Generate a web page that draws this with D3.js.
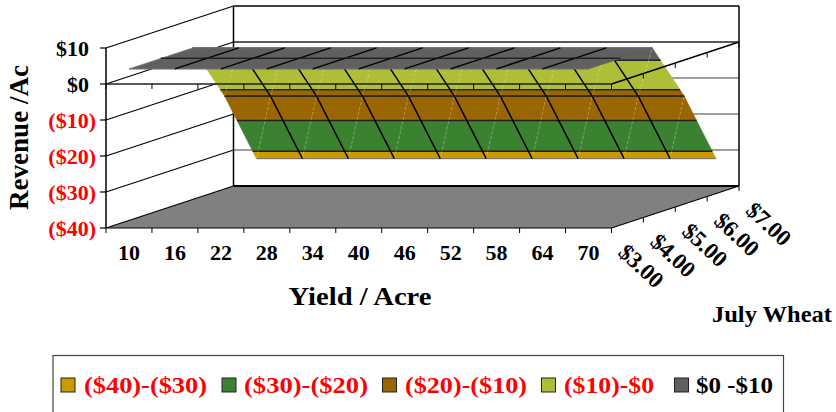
<!DOCTYPE html>
<html>
<head>
<meta charset="utf-8">
<script src="https://cdn.jsdelivr.net/npm/d3@7/dist/d3.min.js"></script>
<style>
html,body{margin:0;padding:0;background:#fff;overflow:hidden}
text{font-family:"Liberation Serif",serif;font-weight:bold}
</style>
</head>
<body>
<svg id="chart" width="836" height="412"></svg>
<script>
const yields = ["10","16","22","28","34","40","46","52","58","64","70"];
const prices = ["$3.00","$4.00","$5.00","$6.00","$7.00"];
const valueTicks = [10,0,-10,-20,-30,-40];
const tickLabels = ["$10","$0","($10)","($20)","($30)","($40)"];
const bandLevels = [-40,-30,-20,-10,0,10];
const bandNames = ["($40)-($30)","($30)-($20)","($20)-($10)","($10)-$0","$0 -$10"];
const bandColors = ["#cc9900","#3b8230","#996600","#aebe38","#606060"];
const bandTextColors = ["#ff0000","#ff0000","#ff0000","#ff0000","#000000"];

// Revenue per acre, one list per wheat price, one value per yield
const revenueAt3 = [4.2,4.2,4.2,4.2,4.2,4.2,4.2,4.2,4.2,4.2,4.2];
const revenueAt4 = [4.2,4.2,4.2,4.2,4.2,4.2,4.2,4.2,4.2,4.2,4.2];
const revenueAt5 = [4.2,4.2,4.2,4.2,4.2,4.2,4.2,4.2,4.2,4.2,4.2];
const revenueAt6 = [-12.1,-12.1,-12.1,-12.1,-12.1,-12.1,-12.1,-12.1,-12.1,-12.1,-12.1];
const revenueAt7 = [-32.4,-32.4,-32.4,-32.4,-32.4,-32.4,-32.4,-32.4,-32.4,-32.4,-32.4];
const surface = [revenueAt3,revenueAt4,revenueAt5,revenueAt6,revenueAt7];

const svg = d3.select("#chart");

// Oblique projection: yield runs across, price recedes up and to the right
const xBand = d3.scaleBand().domain(yields).range([106,611.5]);
const yVal = d3.scaleLinear().domain([-40,10]).range([228,48]);
const depthX = d3.scalePoint().domain(prices).range([0,127.5]);
const depthY = d3.scalePoint().domain(prices).range([0,42]);
const edgeX = (i) => 106 + i * xBand.bandwidth();
const project = (fi,fd,v) => [
  xBand(yields[0]) + xBand.bandwidth()/2 + fi*xBand.step() + fd*depthX.step(),
  yVal(v) - fd*depthY.step()
];
const wallPoint = (ex,d,v) => [ex + d*depthX.step(), yVal(v) - d*depthY.step()];
const lastD = prices.length-1;
const pathOf = (pts,close) => "M"+pts.map(p=>p[0]+","+p[1]).join("L")+(close?"Z":"");

const line = (g,a,b,w,c) => g.append("path").attr("d",pathOf([a,b])).attr("fill","none")
  .attr("stroke",c||"#000").attr("stroke-width",w);

// Floor
const walls = svg.append("g");
walls.append("path")
  .attr("d",pathOf([wallPoint(106,0,-40),wallPoint(611.5,0,-40),wallPoint(611.5,lastD,-40),wallPoint(106,lastD,-40)],true))
  .attr("fill","#808080");

// Back-wall gridlines
[-10,-20,-30].forEach(v=>line(walls,wallPoint(106,lastD,v),wallPoint(611.5,lastD,v),1.6,"#808080"));
line(walls,wallPoint(106,lastD,0),wallPoint(611.5,lastD,0),1.6,"#222");
line(walls,wallPoint(106,lastD,10),wallPoint(611.5,lastD,10),1.6);
line(walls,wallPoint(106,lastD,-40),wallPoint(611.5,lastD,-40),2);
line(walls,wallPoint(106,lastD,10),wallPoint(106,lastD,-40),1.5);
line(walls,wallPoint(611.5,lastD,10),wallPoint(611.5,lastD,-40),1.5);

// Side-wall gridlines and the outer frame
valueTicks.forEach(v=>line(walls,wallPoint(106,0,v),wallPoint(106,lastD,v),1.2));
line(walls,wallPoint(106,0,10),wallPoint(106,0,-40),1.5);
line(walls,wallPoint(106,0,-40),wallPoint(611.5,0,-40),1.2);
line(walls,wallPoint(611.5,0,-40),wallPoint(611.5,lastD,-40),1.2);
valueTicks.forEach(v=>line(walls,[100,yVal(v)],[106,yVal(v)],1.2));
d3.range(yields.length+1).forEach(i=>line(walls,[edgeX(i),228],[edgeX(i),233],1));
d3.range(prices.length).forEach(d=>{
  const p = wallPoint(611.5,d,-40);
  line(walls,p,[p[0],p[1]+5],1);
});

// Keep the part of a polygon whose value lies on one side of a level
function clip(poly,level,keepAbove){
  const inside = p => keepAbove ? p[2] >= level : p[2] <= level;
  const out = [];
  poly.forEach((p,k)=>{
    const q = poly[(k+1)%poly.length];
    if(inside(p)) out.push(p);
    if(inside(p)!==inside(q)){
      const t = (level-p[2])/(q[2]-p[2]);
      out.push([p[0]+t*(q[0]-p[0]),p[1]+t*(q[1]-p[1]),level]);
    }
  });
  return out;
}
const toScreen = p => project(p[0],p[1],p[2]);

// Surface, painted strip by strip from the far price to the near one
const surf = svg.append("g");
for(let d=lastD-1;d>=0;d--){
  const strip = surf.append("g");
  for(let i=0;i<yields.length-1;i++){
    const a=[i,d,surface[d][i]], b=[i+1,d,surface[d][i+1]],
          c=[i+1,d+1,surface[d+1][i+1]], e=[i,d+1,surface[d+1][i]];
    [[a,b,e],[b,c,e]].forEach(tri=>{
      bandColors.forEach((col,k)=>{
        let poly = clip(tri,bandLevels[k],true);
        if(poly.length) poly = clip(poly,bandLevels[k+1],false);
        if(poly.length>2){
          strip.append("path").attr("d",pathOf(poly.map(toScreen),true))
            .attr("fill",col).attr("stroke",col).attr("stroke-width",0.6);
        }
      });
    });
    // Contour lines where the strip crosses a band boundary
    bandLevels.slice(1,-1).forEach(lv=>{
      const lo=surface[d][i], hi=surface[d+1][i];
      if((lo-lv)*(hi-lv)<0){
        const t=(lv-lo)/(hi-lo);
        line(strip,project(i,d+t,lv),project(i+1,d+t,lv),1.5,"#222");
      }
    });
    // Facet diagonals on the sloping strips
    if(surface[d][i]!==surface[d+1][i]){
      strip.append("path")
        .attr("d",pathOf([project(i,d+1,surface[d+1][i]),project(i+1,d,surface[d][i+1])]))
        .attr("fill","none").attr("stroke","rgba(255,255,255,0.35)")
        .attr("stroke-width",0.8).attr("stroke-dasharray","3,2");
    }
  }
  // Far and near edges of the strip
  [d+1,d].forEach(dd=>{
    const strong = dd===1||dd===3;
    line(strip,project(0,dd,surface[dd][0]),project(yields.length-1,dd,surface[dd][yields.length-1]),
      strong?1.4:1,strong?"#222":"#707070");
  });
  // Lines of constant yield
  for(let i=1;i<yields.length-1;i++){
    line(strip,project(i,d,surface[d][i]),project(i,d+1,surface[d+1][i]),1.5);
  }
}

// Zero plane axes lie over the surface
const zeroAxis = svg.append("g");
line(zeroAxis,wallPoint(106,0,0),wallPoint(611.5,0,0),1.4,"#222");
line(zeroAxis,wallPoint(611.5,0,0),wallPoint(611.5,lastD,0),1.4);
d3.range(yields.length+1).forEach(i=>line(zeroAxis,[edgeX(i),yVal(0)],[edgeX(i),yVal(0)+5],1));
d3.range(prices.length).forEach(d=>{
  const p = wallPoint(611.5,d,0);
  line(zeroAxis,p,[p[0],p[1]+5],1);
});

// Axis labels
const labels = svg.append("g");
valueTicks.forEach((v,k)=>{
  labels.append("text").attr("x",v<0?96:89).attr("y",yVal(v)+8).attr("text-anchor","end")
    .attr("font-size",22).attr("fill",v<0?"#ff0000":"#000").text(tickLabels[k]);
});
yields.forEach(y=>{
  labels.append("text").attr("x",xBand(y)+xBand.bandwidth()/2).attr("y",259.5)
    .attr("text-anchor","middle").attr("font-size",22).text(y);
});
prices.forEach((p,d)=>{
  const q = wallPoint(611.5,d,-40);
  labels.append("text").attr("transform",`translate(${q[0]+5.5},${q[1]+26}) rotate(43)`)
    .attr("font-size",23).text(p);
});
labels.append("text").attr("transform","translate(28,210) rotate(-90)")
  .attr("font-size",27).attr("textLength",145).attr("lengthAdjust","spacingAndGlyphs").text("Revenue /Ac");
labels.append("text").attr("x",288.5).attr("y",305).attr("font-size",26)
  .attr("textLength",143).attr("lengthAdjust","spacingAndGlyphs").text("Yield / Acre");
labels.append("text").attr("x",712).attr("y",322).attr("font-size",24)
  .attr("textLength",120).attr("lengthAdjust","spacingAndGlyphs").text("July Wheat");

// Legend
const legend = svg.append("g");
legend.append("rect").attr("x",53).attr("y",355.5).attr("width",730.5).attr("height",70)
  .attr("fill","#fff").attr("stroke","#444").attr("stroke-width",1.2);
const swatchX = [61,222,382.5,541.5,674.5];
const labelX = [84,244,405,564,696];
const labelW = [123,124,122,90,77];
bandNames.forEach((n,k)=>{
  legend.append("rect").attr("x",swatchX[k]).attr("y",378).attr("width",14).attr("height",14)
    .attr("fill",bandColors[k]).attr("stroke","#222").attr("stroke-width",1);
  legend.append("text").attr("x",labelX[k]).attr("y",393).attr("font-size",24)
    .attr("fill",bandTextColors[k]).attr("textLength",labelW[k])
    .attr("lengthAdjust","spacingAndGlyphs").text(n);
});
</script>
</body>
</html>
